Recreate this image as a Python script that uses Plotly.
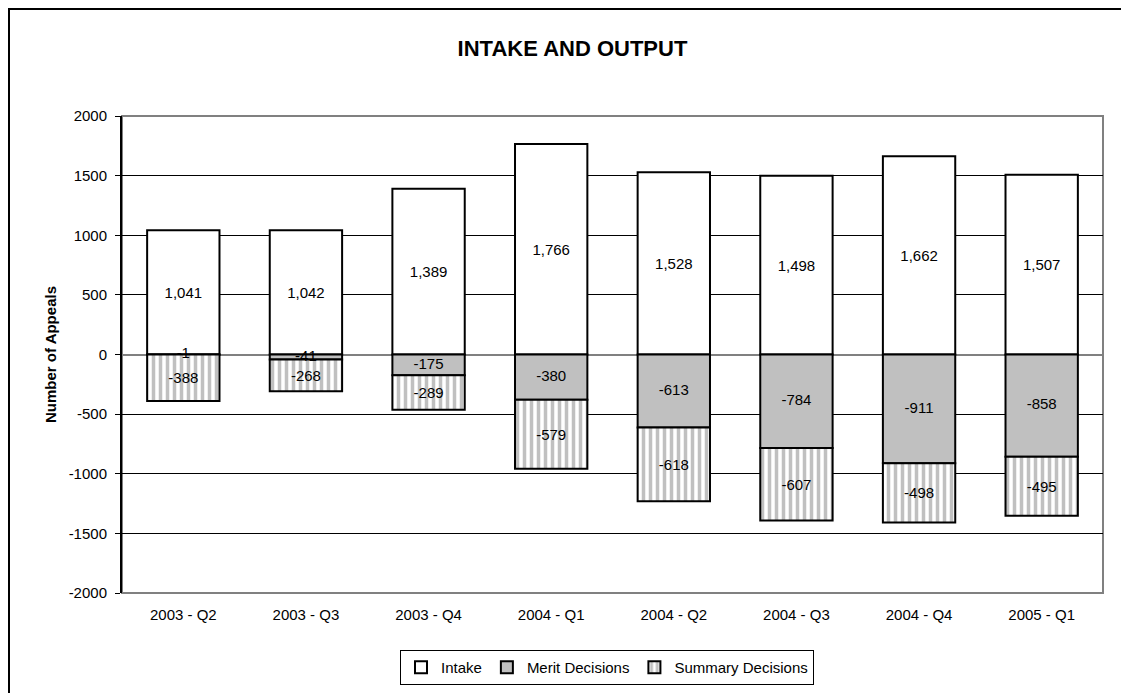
import plotly.graph_objects as go

quarters = ["2003 - Q2", "2003 - Q3", "2003 - Q4", "2004 - Q1", "2004 - Q2", "2004 - Q3", "2004 - Q4", "2005 - Q1"]
intake = [1041, 1042, 1389, 1766, 1528, 1498, 1662, 1507]
merit = [-1, -41, -175, -380, -613, -784, -911, -858]
summary = [-388, -268, -289, -579, -618, -607, -498, -495]
y_ticks = [2000, 1500, 1000, 500, 0, -500, -1000, -1500, -2000]

FONT = "Liberation Sans, Arial, sans-serif"

def labels(vals):
    return [f"{v:,}" for v in vals]

fig = go.Figure()
common = dict(textposition="inside", insidetextanchor="middle",
              textfont=dict(size=15, color="black", family=FONT),
              constraintext="none")
fig.add_trace(go.Bar(x=quarters, y=intake, name="Intake", text=labels(intake),
                     marker=dict(color="white", line=dict(color="black", width=2)), **common))
fig.add_trace(go.Bar(x=quarters, y=merit, name="Merit Decisions",
                     marker=dict(color="#c0c0c0", line=dict(color="black", width=2))))
fig.add_trace(go.Bar(x=quarters, y=summary, name="Summary Decisions", text=labels(summary),
                     marker=dict(color="white", line=dict(color="black", width=2),
                                 pattern=dict(shape="|", fgcolor="#c0c0c0", bgcolor="white",
                                              size=7, solidity=0.5, fillmode="replace")),
                     **common))
# merit labels centred in their (sometimes tiny) segments
fig.add_trace(go.Scatter(x=quarters, y=[m / 2 for m in merit], text=labels(merit),
                         mode="text", textposition="middle center",
                         textfont=dict(size=15, color="black", family=FONT),
                         showlegend=False, hoverinfo="skip"))

# page has an 8px body margin; plot area should sit at x 122..1103, y 116..593 on the page
L, T, R, B = 114, 108, 34, 108
PW, PH = 1129 - L - R, 693 - T - B

def px_x(page_x):
    return (page_x - 8 - L) / PW

def px_y(page_y):
    return 1 - (page_y - 8 - T) / PH

fig.update_layout(
    barmode="relative",
    bargap=0.41,
    width=1129, height=693,
    margin=dict(l=L, r=R, t=T, b=B, autoexpand=False),
    paper_bgcolor="white", plot_bgcolor="white",
    font=dict(family=FONT, size=15, color="black"),
    uniformtext=dict(minsize=15, mode="show"),
    title=dict(text="<b>INTAKE AND OUTPUT</b>", x=0.5, xanchor="center",
               y=1 - 40 / 693, yanchor="middle", font=dict(size=22, family=FONT, color="black")),
    showlegend=True,
    legend=dict(orientation="h", x=px_x(607), xanchor="center", y=px_y(650), yanchor="top",
                bordercolor="black", borderwidth=1, bgcolor="white",
                font=dict(size=15, family=FONT), traceorder="normal",
                itemwidth=30, tracegroupgap=0),
    xaxis=dict(showgrid=False, ticks="", showline=False, zeroline=False, automargin=False,
               ticklabelstandoff=11, tickfont=dict(size=15, family=FONT)),
    yaxis=dict(range=[-2000, 2000], tickvals=y_ticks, ticktext=[str(v) for v in y_ticks],
               automargin=False,
               showgrid=True, gridcolor="black", gridwidth=1,
               zeroline=True, zerolinecolor="#808080", zerolinewidth=2,
               showline=True, linecolor="black", linewidth=2,
               ticks="outside", ticklen=5, tickcolor="black", tickwidth=1,
               ticklabelstandoff=5,
               tickfont=dict(size=15, family=FONT),
               title=dict(text="<b>Number of Appeals</b>", standoff=8,
                          font=dict(size=15, family=FONT))),
    shapes=[
        dict(type="rect", xref="paper", yref="paper", x0=0, x1=1, y0=0, y1=1,
             line=dict(color="#808080", width=2), layer="below"),
        dict(type="rect", xref="paper", yref="paper",
             x0=px_x(9), x1=px_x(1200), y0=px_y(720), y1=px_y(9),
             line=dict(color="black", width=2), layer="above"),
    ],
)

fig.write_html("out.html")
